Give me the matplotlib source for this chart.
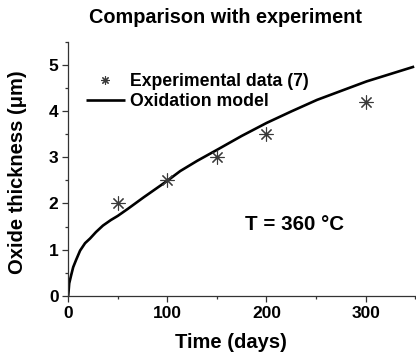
import numpy as np
import matplotlib
matplotlib.use("Agg")
import matplotlib.pyplot as plt
from matplotlib.ticker import MultipleLocator

plt.rcParams['font.family'] = ['Liberation Sans', 'DejaVu Sans']
plt.rcParams['font.weight'] = 'bold'

# Experimental oxide thickness
exp_days = [50, 100, 150, 200, 300]
exp_thickness = [2.0, 2.5, 3.0, 3.5, 4.2]

# Oxidation model curve
model_days = [0, 1, 3, 5, 8, 12, 17, 22, 28, 35, 43, 50, 60, 76, 90, 100, 113,
              130, 151, 175, 200, 225, 251, 276, 301, 325, 349]
model_thickness = [0.0, 0.27, 0.45, 0.62, 0.78, 0.98, 1.14, 1.24, 1.38, 1.52,
                   1.64, 1.73, 1.88, 2.13, 2.34, 2.49, 2.70, 2.92, 3.17, 3.46,
                   3.74, 3.99, 4.24, 4.44, 4.64, 4.80, 4.96]

fig = plt.figure(figsize=(4.16, 3.56), dpi=100)
ax = fig.add_axes([0.164, 0.169, 0.834, 0.714])

ax.plot(model_days, model_thickness, color='black', lw=1.9, label='Oxidation model',
        solid_capstyle='butt', zorder=2)
ax.plot(exp_days, exp_thickness, linestyle='none', marker=(8, 2, 0), ms=10,
        mew=0.8, color='#3a3a3a', label='Experimental data (7)', zorder=3)

ax.set_xlim(0, 350)
ax.set_ylim(0, 5.5)
ax.xaxis.set_major_locator(MultipleLocator(100))
ax.xaxis.set_minor_locator(MultipleLocator(50))
ax.yaxis.set_major_locator(MultipleLocator(1))
ax.yaxis.set_minor_locator(MultipleLocator(0.5))

for side in ('top', 'right'):
    ax.spines[side].set_visible(False)
for side in ('left', 'bottom'):
    ax.spines[side].set_linewidth(0.9)
    ax.spines[side].set_color('#333333')

ax.tick_params(which='major', direction='out', length=4, width=0.9,
               labelsize=12.5, color='#333333', pad=3)
ax.tick_params(which='minor', direction='out', length=2.5, width=0.9, color='#333333')
for lbl in ax.get_xticklabels() + ax.get_yticklabels():
    lbl.set_fontweight('bold')

ax.set_xlabel('Time (days)', fontsize=14.5, fontweight='bold')
ax.xaxis.set_label_coords(0.47, -0.145)
ax.set_ylabel('Oxide thickness (μm)', fontsize=14.5, fontweight='bold')
ax.yaxis.set_label_coords(-0.119, 0.488)

handles, labels = ax.get_legend_handles_labels()
ax.legend(handles[::-1], labels[::-1], loc='upper left', bbox_to_anchor=(0.031, 0.904),
          frameon=False, handlelength=2.2, handletextpad=0.28, markerscale=0.6,
          labelspacing=0.15, borderaxespad=0.0, prop={'weight': 'bold', 'size': 12.7})

ax.text(178, 1.54, 'T = 360 °C', fontsize=14.8, fontweight='bold', va='center')

fig.text(0.541, 0.95, 'Comparison with experiment', ha='center', va='center',
         fontsize=14.3, fontweight='bold')

fig.savefig('out.png', dpi=100)
